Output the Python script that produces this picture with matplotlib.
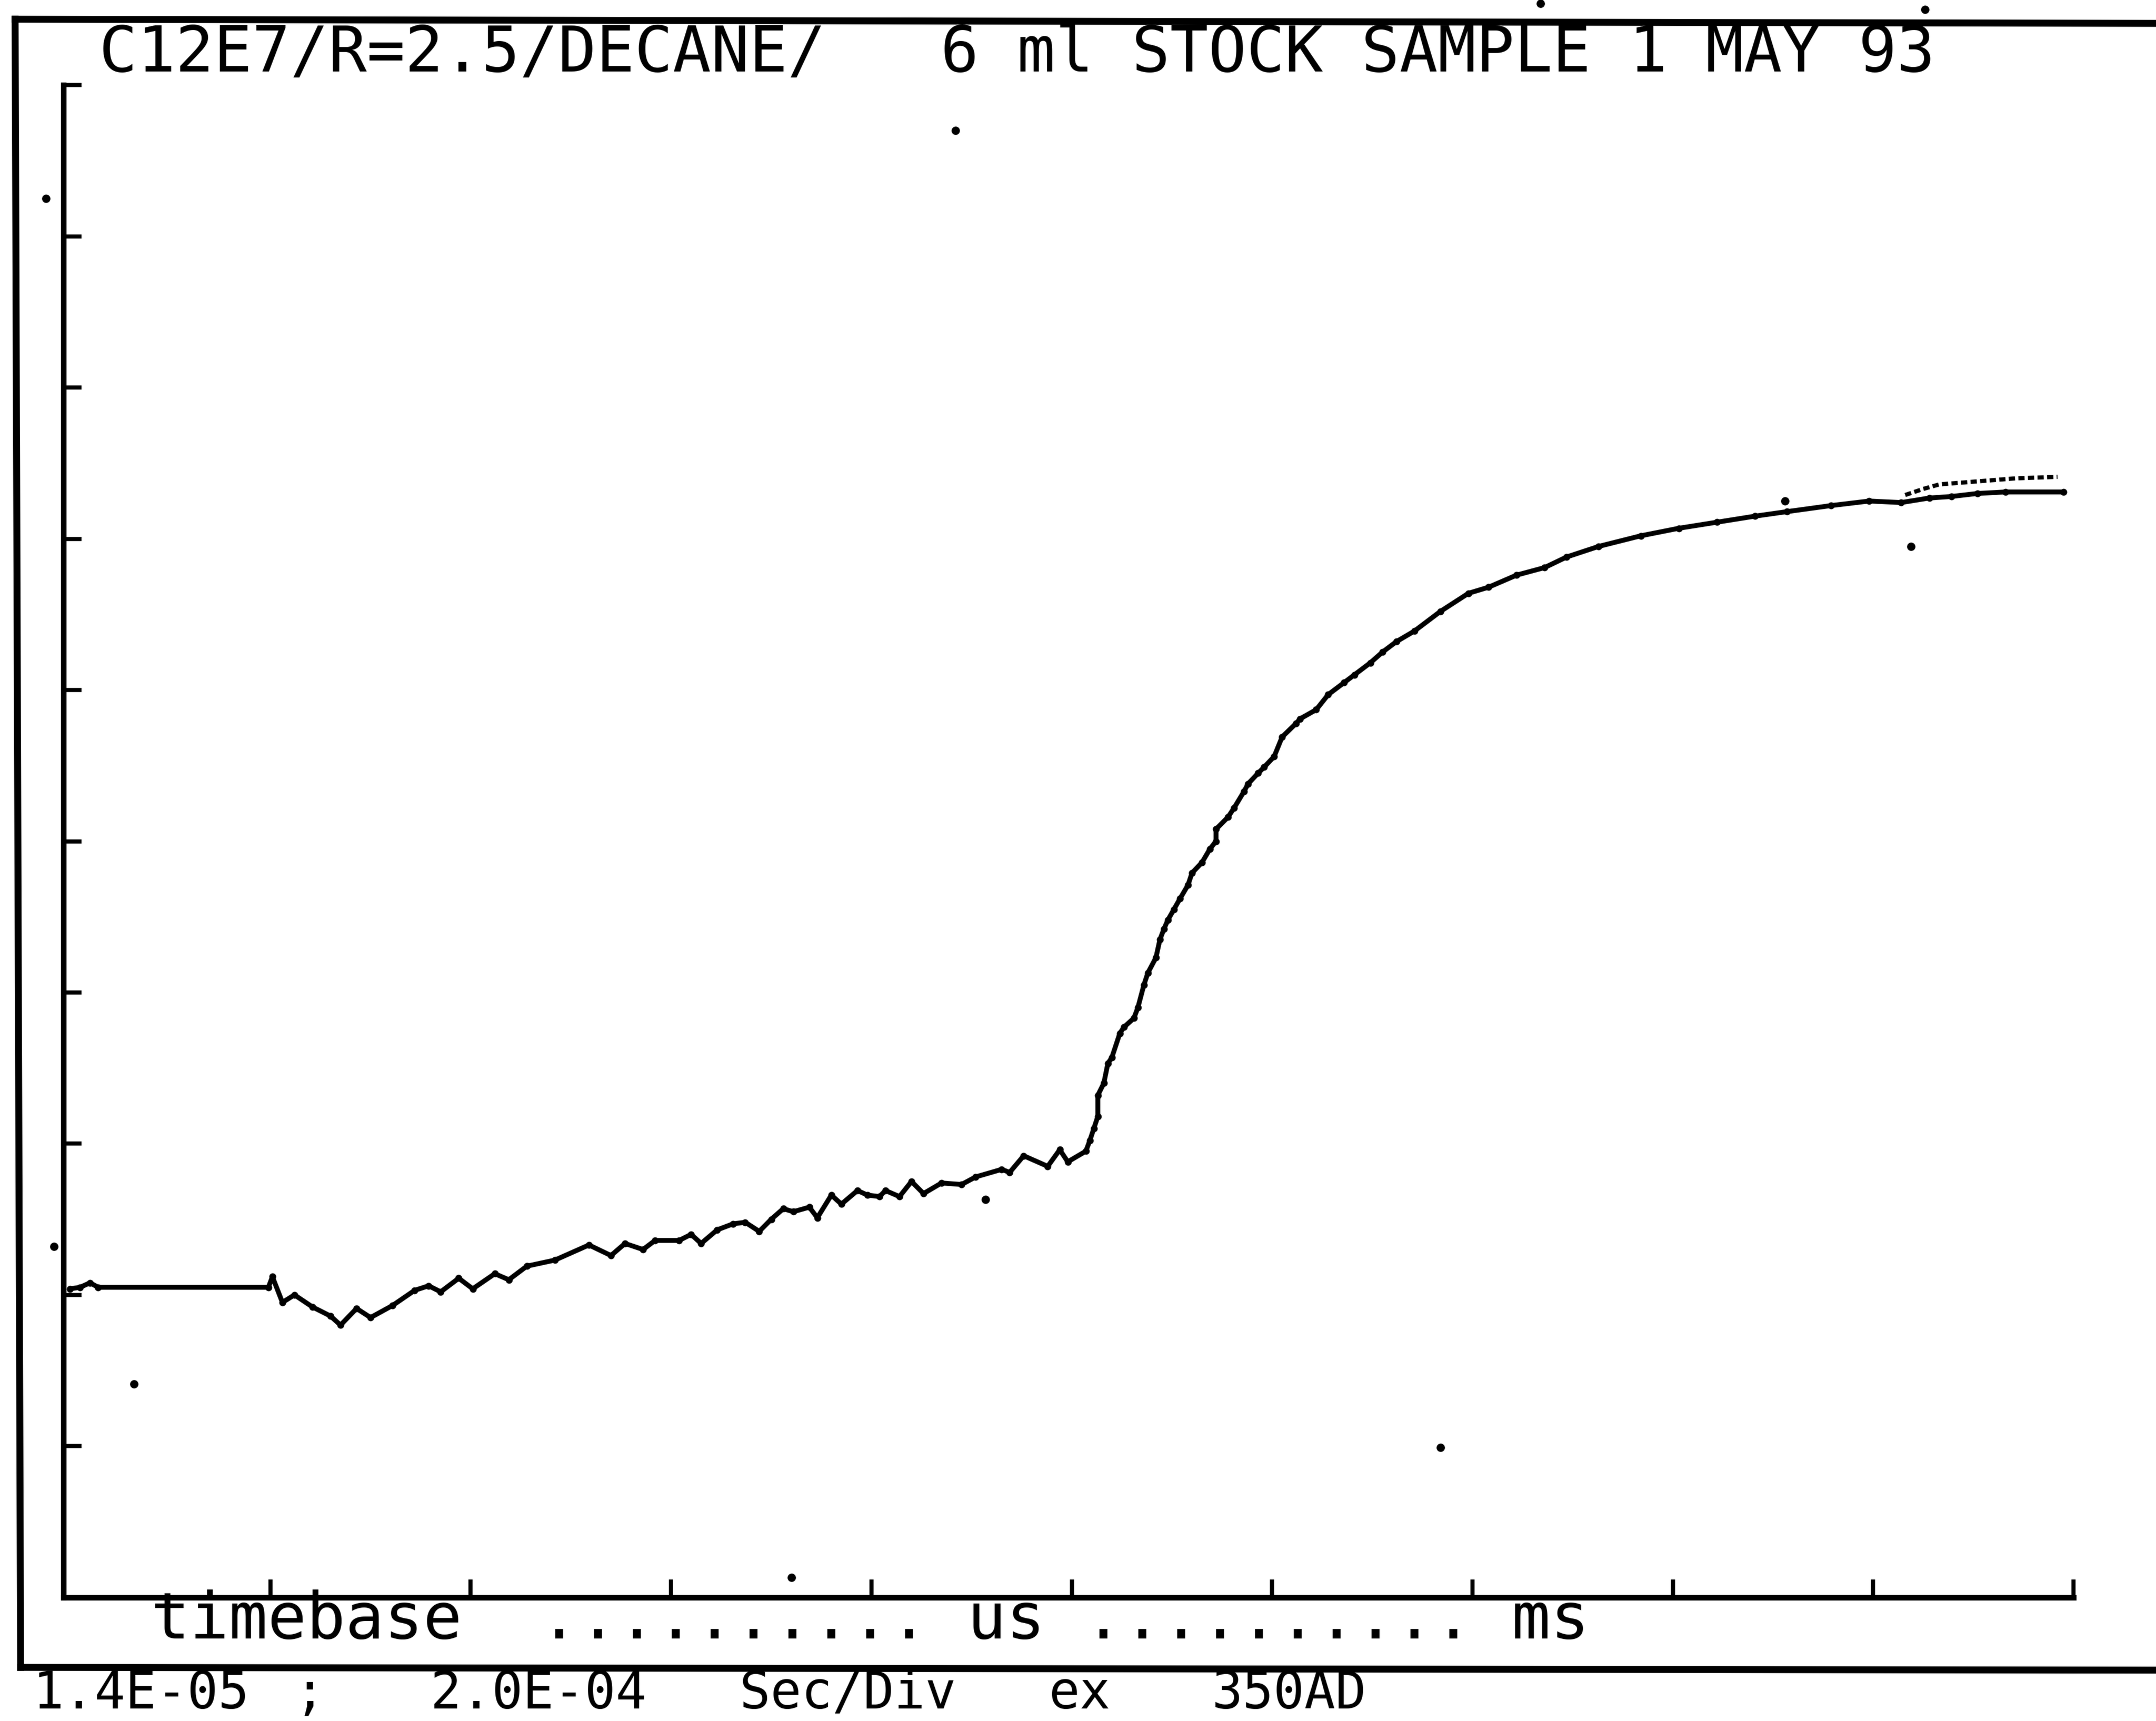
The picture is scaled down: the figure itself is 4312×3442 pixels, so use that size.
import matplotlib
matplotlib.use('Agg')
import matplotlib.pyplot as plt
from matplotlib.lines import Line2D

# trace, in screen divisions (10 x 10 graticule)
t_div = [0.00, 0.05, 0.10, 0.14, 0.99, 1.01, 1.06, 1.12, 1.21, 1.30, 1.35, 1.43, 1.50, 1.61,
         1.72, 1.79, 1.85, 1.94, 2.01, 2.12, 2.19, 2.28, 2.42, 2.59, 2.70, 2.77, 2.86, 2.92,
         3.04, 3.10, 3.15, 3.23, 3.31, 3.37, 3.44, 3.50, 3.56, 3.61, 3.69, 3.73, 3.80, 3.85,
         3.93, 3.98, 4.04, 4.07, 4.14, 4.20, 4.26, 4.35, 4.45, 4.52, 4.65, 4.69, 4.76, 4.88,
         4.94, 4.98, 5.07, 5.09, 5.11, 5.13, 5.13, 5.16, 5.18, 5.20, 5.24, 5.26, 5.31, 5.33,
         5.36, 5.38, 5.42, 5.44, 5.46, 5.48, 5.51, 5.54, 5.58, 5.60, 5.65, 5.69, 5.72, 5.72,
         5.78, 5.81, 5.86, 5.88, 5.93, 5.96, 6.01, 6.05, 6.12, 6.14, 6.22, 6.28, 6.36, 6.41,
         6.49, 6.55, 6.62, 6.71, 6.84, 6.98, 7.08, 7.22, 7.36, 7.47, 7.63, 7.84, 8.03, 8.22,
         8.41, 8.57, 8.79, 8.98, 9.14, 9.28, 9.39, 9.52, 9.66, 9.95]
sig_div = [2.04, 2.05, 2.08, 2.05, 2.05, 2.12, 1.95, 2.00, 1.92, 1.86, 1.80, 1.91, 1.85, 1.93,
           2.03, 2.06, 2.02, 2.11, 2.04, 2.14, 2.10, 2.19, 2.23, 2.33, 2.26, 2.34, 2.30, 2.36,
           2.36, 2.40, 2.34, 2.43, 2.47, 2.48, 2.42, 2.50, 2.57, 2.55, 2.58, 2.51, 2.66, 2.60,
           2.69, 2.66, 2.65, 2.69, 2.65, 2.75, 2.67, 2.74, 2.73, 2.78, 2.83, 2.81, 2.92, 2.85,
           2.96, 2.88, 2.95, 3.02, 3.10, 3.18, 3.32, 3.40, 3.53, 3.57, 3.73, 3.77, 3.83, 3.90,
           4.05, 4.13, 4.23, 4.35, 4.42, 4.48, 4.55, 4.62, 4.71, 4.79, 4.86, 4.95, 5.00, 5.08,
           5.16, 5.22, 5.33, 5.38, 5.45, 5.49, 5.56, 5.69, 5.78, 5.81, 5.87, 5.97, 6.05, 6.10,
           6.18, 6.25, 6.32, 6.39, 6.52, 6.64, 6.68, 6.76, 6.81, 6.88, 6.95, 7.02, 7.07, 7.11,
           7.15, 7.18, 7.22, 7.25, 7.24, 7.27, 7.28, 7.30, 7.31, 7.31]

# second sweep visible at the end of the record
t2_div = [9.16, 9.25, 9.33, 9.52, 9.71, 9.92]
sig2_div = [7.29, 7.33, 7.36, 7.38, 7.40, 7.41]

# stray specks on the print
speck_x = [4.42, 6.84, 0.32, 9.19, 4.57, 3.60, 8.56, -0.12, -0.08, 7.34, 9.26]
speck_y = [9.70, 0.99, 1.41, 6.95, 2.63, 0.13, 7.25, 9.25, 2.32, 10.54, 10.50]

x_ticks = [1, 2, 3, 4, 5, 6, 7, 8, 9, 10]
y_ticks = [0, 1, 2, 3, 4, 5, 6, 7, 8, 9, 10]

title = 'C12E7/R=2.5/DECANE/   6 ml STOCK SAMPLE 1 MAY 93'
timebase_txt = 'timebase  .......... us .......... ms'
footer_parts = ['1.4E-05', ';', '2.0E-04', 'Sec/Div', 'ex', '350AD']
footer_x = [24, 214, 313, 538, 763, 881]

W, H = 1568.0, 1252.0   # layout measured on the reduced reference

fig = plt.figure(figsize=(43.12, 34.42), dpi=100)
ax = fig.add_axes([46 / W, 1 - 1162 / H, (1508 - 46) / W, 1100 / H])

ax.plot(t_div, sig_div, color='black', lw=7, solid_capstyle='round',
        solid_joinstyle='round', marker='o', ms=9, mfc='black', mec='black')
ax.plot(t2_div, sig2_div, color='black', lw=6, ls=(0, (1.5, 0.8)))
ax.plot(speck_x, speck_y, 'o', color='black', ms=11, clip_on=False)

ax.set_xlim(-0.034, 10.0)
ax.set_ylim(0, 10)
ax.set_xticks(x_ticks)
ax.set_yticks(y_ticks)
ax.tick_params(direction='in', length=26, width=6, labelbottom=False, labelleft=False)
for s in ['top', 'right']:
    ax.spines[s].set_visible(False)
for s in ['left', 'bottom']:
    ax.spines[s].set_linewidth(8)

# outer frame of the printout
frame = dict(transform=fig.transFigure, color='black', lw=10)
fig.add_artist(Line2D([11 / W, 1.0], [1 - 14 / H, 1 - 17 / H], **frame))
fig.add_artist(Line2D([11 / W, 15 / W], [1 - 14 / H, 1 - 1213 / H], **frame))
fig.add_artist(Line2D([15 / W, 1.0], [1 - 1213 / H, 1 - 1215 / H], **frame))

mono = ['DejaVu Sans Mono']
fig.text(72 / W, 1 - 52 / H, title, family=mono, fontsize=91.5, va='baseline', ha='left')
fig.text(110 / W, 1 - 1192 / H, timebase_txt, family=mono, fontsize=93,
         va='baseline', ha='left')
for txt, x in zip(footer_parts, footer_x):
    fig.text(x / W, 1 - 1243 / H, txt, family=mono, fontsize=74, va='baseline', ha='left')

fig.savefig('out.png', dpi=100, facecolor='white')
